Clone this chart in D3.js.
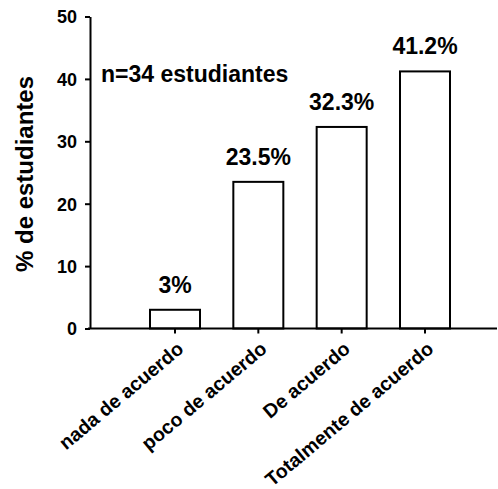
<!DOCTYPE html>
<html><head><meta charset="utf-8">
<script src="https://cdn.jsdelivr.net/npm/d3@7"></script>
<style>body{margin:0;background:#fff}text{font-family:"Liberation Sans",Arial,sans-serif;font-weight:bold;fill:#000}</style>
</head><body><svg id="c" width="498" height="489"></svg>
<script>
const categories = ["nada de acuerdo","poco de acuerdo","De acuerdo","Totalmente de acuerdo"];
const values = [3, 23.5, 32.3, 41.2];
const valueLabels = ["3%","23.5%","32.3%","41.2%"];
const yTicks = [0,10,20,30,40,50];
const note = "n=34 estudiantes";
const yTitle = "% de estudiantes";

const svg = d3.select("#c");
const x = d3.scaleBand().domain(categories).range([100,500]).paddingInner(0.4).paddingOuter(0.6);
const y = d3.scaleLinear().domain([0,50]).range([328.5,16.5]);

// bars
svg.selectAll("rect.bar").data(values).enter().append("rect")
  .attr("x",(d,i)=>x(categories[i])).attr("y",d=>y(d))
  .attr("width",x.bandwidth()).attr("height",d=>y(0)-y(d))
  .attr("fill","#fff").attr("stroke","#000").attr("stroke-width",2);

// y axis
const ya = svg.append("g").attr("transform","translate(90,0)")
  .call(d3.axisLeft(y).tickValues(yTicks).tickSize(5).tickPadding(8).tickSizeOuter(0));
ya.select(".domain").attr("stroke-width",2);
ya.selectAll(".tick line").attr("stroke-width",2);
ya.selectAll(".tick text").style("font-size","18px").attr("dy","0.35em");

// x axis
const xa = svg.append("g").attr("transform",`translate(0,${y(0)})`)
  .call(d3.axisBottom(x).tickSize(5).tickSizeOuter(0).tickFormat(()=>""));
xa.select(".domain").attr("d","M88,0H497").attr("stroke-width",2);
xa.selectAll(".tick line").attr("stroke-width",2);

svg.selectAll("text.xl").data(categories).enter().append("text")
  .attr("class","xl")
  .attr("transform",d=>`translate(${x(d)+x.bandwidth()/2+1},${y(0)+12}) rotate(-40)`)
  .attr("text-anchor","end").attr("dy","0.7em")
  .style("font-size","19.5px").text(d=>d);

// value labels
svg.selectAll("text.vl").data(values).enter().append("text")
  .attr("class","vl")
  .attr("x",(d,i)=>x(categories[i])+x.bandwidth()/2)
  .attr("y",d=>y(d)-17)
  .attr("text-anchor","middle").style("font-size","23px")
  .text((d,i)=>valueLabels[i]);

svg.append("text").attr("x",101).attr("y",81.5).style("font-size","23px").text(note);

svg.append("text").attr("transform","translate(33,174) rotate(-90)")
  .attr("text-anchor","middle").style("font-size","24px").text(yTitle);
</script></body></html>
